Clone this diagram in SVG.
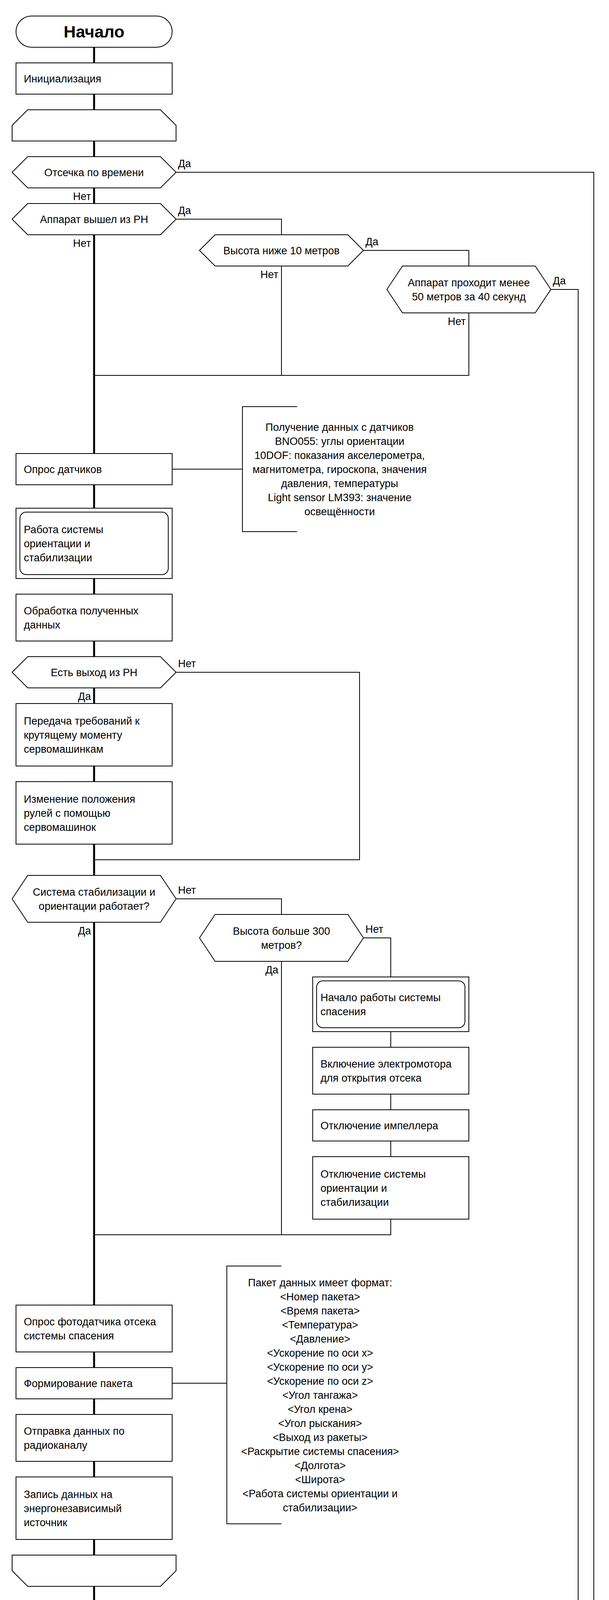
<svg xmlns="http://www.w3.org/2000/svg" width="1560" height="5000" viewBox="0 0 1560 5000">
<style>
.b{fill:#fff;stroke:#000;stroke-width:2}
.m{fill:none;stroke:#000;stroke-width:5}
.c{fill:none;stroke:#000;stroke-width:2}
text{font-family:"Liberation Sans",Arial,sans-serif;font-size:27px;fill:#000}
.mid{text-anchor:middle}
.end{text-anchor:end}
.bold{font-weight:bold;font-size:43px}
</style>
<rect width="1560" height="5000" fill="#fff"/>
<g id="connectors">
<path class="m" d="M241,121 V4891"/>
<path class="c" d="M451,441 H1521 V4141 H241"/>
<path class="c" d="M451,561 H721 V601"/>
<path class="c" d="M931,641 H1201 V681"/>
<path class="c" d="M1411,741 H1481 V4101 H241"/>
<path class="c" d="M721,681 V961"/>
<path class="c" d="M1201,801 V961 H241"/>
<path class="c" d="M441,1201 H621"/>
<path class="c" d="M451,1721 H921 V2201 H241"/>
<path class="c" d="M451,2301 H721 V2341"/>
<path class="c" d="M931,2401 H1001 V2501"/>
<path class="c" d="M721,2461 V3161"/>
<path class="c" d="M1001,2641 V2681 M1001,2801 V2841 M1001,2921 V2961 M1001,3121 V3161 H241"/>
<path class="c" d="M441,3541 H581"/>
<text x="456" y="428">Да</text>
<text class="end" x="233" y="512">Нет</text>
<text x="456" y="548">Да</text>
<text class="end" x="233" y="632">Нет</text>
<text x="936" y="628">Да</text>
<text class="end" x="713" y="712">Нет</text>
<text x="1416" y="728">Да</text>
<text class="end" x="1193" y="832">Нет</text>
<text x="456" y="1708">Нет</text>
<text class="end" x="233" y="1792">Да</text>
<text x="456" y="2288">Нет</text>
<text class="end" x="233" y="2392">Да</text>
<text x="936" y="2388">Нет</text>
<text class="end" x="713" y="2492">Да</text>
</g>
<g id="start"><rect class="b" x="41" y="41" width="400" height="80" rx="40"/><text class="mid bold" x="241" y="96">Начало</text></g>
<g id="init"><rect class="b" x="41" y="161" width="400" height="80"/><text x="61" y="211">Инициализация</text></g>
<g id="loop1"><polygon class="b" points="71,281 411,281 451,321 451,361 31,361 31,321"/></g>
<g id="d1"><polygon class="b" points="31,441 71,401 411,401 451,441 411,481 71,481"/><text class="mid" x="241" y="450.5">Отсечка по времени</text></g>
<g id="d2"><polygon class="b" points="31,561 71,521 411,521 451,561 411,601 71,601"/><text class="mid" x="241" y="570.5">Аппарат вышел из РН</text></g>
<g id="d3"><polygon class="b" points="511,641 551,601 891,601 931,641 891,681 551,681"/><text class="mid" x="721" y="650.5">Высота ниже 10 метров</text></g>
<g id="d4"><polygon class="b" points="991,741 1031,681 1371,681 1411,741 1371,801 1031,801"/><text class="mid" x="1201" y="732.5">Аппарат проходит менее</text><text class="mid" x="1201" y="768.5">50 метров за 40 секунд</text></g>
<g id="sensors"><rect class="b" x="41" y="1161" width="400" height="80"/><text x="61" y="1210.5">Опрос датчиков</text></g>
<g id="note1"><path class="c" d="M761,1041 H621 V1361 H761"/>
<text class="mid" x="870" y="1102.5">Получение данных с датчиков</text>
<text class="mid" x="870" y="1138.5">BNO055: углы ориентации</text>
<text class="mid" x="870" y="1174.5">10DOF: показания акселерометра,</text>
<text class="mid" x="870" y="1210.5">магнитометра, гироскопа, значения</text>
<text class="mid" x="870" y="1246.5">давления, температуры</text>
<text class="mid" x="870" y="1282.5">Light sensor LM393: значение</text>
<text class="mid" x="870" y="1318.5">освещённости</text></g>
<g id="stab"><rect class="b" x="41" y="1301" width="400" height="180"/><rect class="b" x="51" y="1311" width="380" height="160" rx="16"/><text x="61" y="1364.5">Работа системы</text><text x="61" y="1400.5">ориентации и</text><text x="61" y="1436.5">стабилизации</text></g>
<g id="process"><rect class="b" x="41" y="1521" width="400" height="120"/><text x="61" y="1572.5">Обработка полученных</text><text x="61" y="1608.5">данных</text></g>
<g id="d5"><polygon class="b" points="31,1721 71,1681 411,1681 451,1721 411,1761 71,1761"/><text class="mid" x="241" y="1730.5">Есть выход из РН</text></g>
<g id="torque"><rect class="b" x="41" y="1801" width="400" height="160"/><text x="61" y="1854.5">Передача требований к</text><text x="61" y="1890.5">крутящему моменту</text><text x="61" y="1926.5">сервомашинкам</text></g>
<g id="rudders"><rect class="b" x="41" y="2001" width="400" height="160"/><text x="61" y="2054.5">Изменение положения</text><text x="61" y="2090.5">рулей с помощью</text><text x="61" y="2126.5">сервомашинок</text></g>
<g id="d6"><polygon class="b" points="31,2301 71,2241 411,2241 451,2301 411,2361 71,2361"/><text class="mid" x="241" y="2292.5">Система стабилизации и</text><text class="mid" x="241" y="2328.5">ориентации работает?</text></g>
<g id="d7"><polygon class="b" points="511,2401 551,2341 891,2341 931,2401 891,2461 551,2461"/><text class="mid" x="721" y="2392.5">Высота больше 300</text><text class="mid" x="721" y="2428.5">метров?</text></g>
<g id="rescue"><rect class="b" x="801" y="2501" width="400" height="140"/><rect class="b" x="811" y="2511" width="380" height="120" rx="16"/><text x="821" y="2562.5">Начало работы системы</text><text x="821" y="2598.5">спасения</text></g>
<g id="motor"><rect class="b" x="801" y="2681" width="400" height="120"/><text x="821" y="2732.5">Включение электромотора</text><text x="821" y="2768.5">для открытия отсека</text></g>
<g id="impeller"><rect class="b" x="801" y="2841" width="400" height="80"/><text x="821" y="2890.5">Отключение импеллера</text></g>
<g id="staboff"><rect class="b" x="801" y="2961" width="400" height="160"/><text x="821" y="3014.5">Отключение системы</text><text x="821" y="3050.5">ориентации и</text><text x="821" y="3086.5">стабилизации</text></g>
<g id="photo"><rect class="b" x="41" y="3341" width="400" height="120"/><text x="61" y="3392.5">Опрос фотодатчика отсека</text><text x="61" y="3428.5">системы спасения</text></g>
<g id="packet"><rect class="b" x="41" y="3501" width="400" height="80"/><text x="61" y="3550.5">Формирование пакета</text></g>
<g id="note2"><path class="c" d="M721,3241 H581 V3901 H721"/>
<text class="mid" x="820" y="3292.5">Пакет данных имеет формат:</text>
<text class="mid" x="820" y="3328.5">&lt;Номер пакета&gt;</text>
<text class="mid" x="820" y="3364.5">&lt;Время пакета&gt;</text>
<text class="mid" x="820" y="3400.5">&lt;Температура&gt;</text>
<text class="mid" x="820" y="3436.5">&lt;Давление&gt;</text>
<text class="mid" x="820" y="3472.5">&lt;Ускорение по оси x&gt;</text>
<text class="mid" x="820" y="3508.5">&lt;Ускорение по оси y&gt;</text>
<text class="mid" x="820" y="3544.5">&lt;Ускорение по оси z&gt;</text>
<text class="mid" x="820" y="3580.5">&lt;Угол тангажа&gt;</text>
<text class="mid" x="820" y="3616.5">&lt;Угол крена&gt;</text>
<text class="mid" x="820" y="3652.5">&lt;Угол рыскания&gt;</text>
<text class="mid" x="820" y="3688.5">&lt;Выход из ракеты&gt;</text>
<text class="mid" x="820" y="3724.5">&lt;Раскрытие системы спасения&gt;</text>
<text class="mid" x="820" y="3760.5">&lt;Долгота&gt;</text>
<text class="mid" x="820" y="3796.5">&lt;Широта&gt;</text>
<text class="mid" x="820" y="3832.5">&lt;Работа системы ориентации и</text>
<text class="mid" x="820" y="3868.5">стабилизации&gt;</text></g>
<g id="send"><rect class="b" x="41" y="3621" width="400" height="120"/><text x="61" y="3672.5">Отправка данных по</text><text x="61" y="3708.5">радиоканалу</text></g>
<g id="write"><rect class="b" x="41" y="3781" width="400" height="160"/><text x="61" y="3834.5">Запись данных на</text><text x="61" y="3870.5">энергонезависимый</text><text x="61" y="3906.5">источник</text></g>
<g id="loopend1"><polygon class="b" points="31,3981 451,3981 451,4021 411,4061 71,4061 31,4021"/></g>
<g id="beacon"><rect class="b" x="41" y="4181" width="400" height="100"/><rect class="b" x="51" y="4191" width="380" height="80" rx="16"/><text x="61" y="4240.5">Вход в режим "Маяк"</text></g>
<g id="save"><rect class="b" x="41" y="4321" width="400" height="120"/><text x="61" y="4372.5">Сохранить данные на</text><text x="61" y="4408.5">энергонезависимую память</text></g>
<g id="loop2"><polygon class="b" points="71,4481 411,4481 451,4521 451,4561 31,4561 31,4521"/></g>
<g id="gps"><rect class="b" x="41" y="4601" width="400" height="120"/><text x="61" y="4652.5">Передача показаний GPS</text><text x="61" y="4688.5">по радиоканалу</text></g>
<g id="loopend2"><polygon class="b" points="31,4761 451,4761 451,4801 411,4841 71,4841 31,4801"/></g>
<g id="end"><rect class="b" x="171" y="4891" width="140" height="80" rx="40"/><text class="mid" x="241" y="4940.5">Конец</text></g>
</svg>
